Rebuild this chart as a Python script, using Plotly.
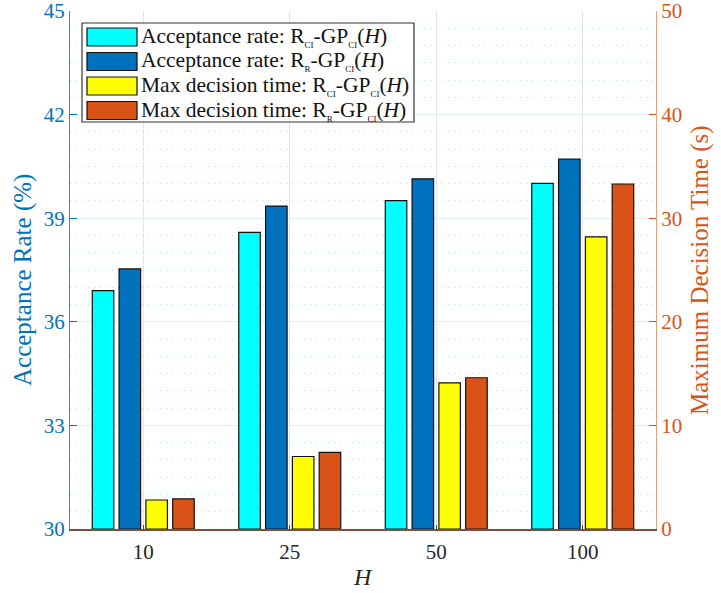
import plotly.graph_objects as go

# ---------------- data ----------------
horizons = ["10", "25", "50", "100"]
acc_rci = [36.90, 38.59, 39.51, 40.01]   # Acceptance rate: R_CI-GP_CI(H)  (%)
acc_rr = [37.53, 39.35, 40.14, 40.71]    # Acceptance rate: R_R-GP_CI(H)   (%)
time_rci = [2.8, 7.0, 14.1, 28.2]        # Max decision time: R_CI-GP_CI(H) (s)
time_rr = [2.9, 7.4, 14.6, 33.3]         # Max decision time: R_R-GP_CI(H)  (s)

left_ticks = [30, 33, 36, 39, 42, 45]
right_ticks = [0, 10, 20, 30, 40, 50]

# ---------------- style ----------------
FONT = "Liberation Serif"
C_CYAN = "#00FFFF"
C_BLUE = "#0072BD"
C_YEL = "#FFFF00"
C_ORG = "#D95319"

W, H = 721, 593
L, R, T, B = 70, 65, 11, 64
PW, PH = W - L - R, H - T - B

def px(x):
    return (x - L) / PW

def py(y):
    return (H - B - y) / PH

bar_w = 0.147
centers = [-0.2745, -0.0915, 0.0915, 0.2745]

sub = "<span style='font-size:9px'>CI</span>"
subr = "<span style='font-size:9px'>R</span>"
names = [
    f"Acceptance rate: R<sub>{sub}</sub>-GP<sub>{sub}</sub>(<i>H</i>)",
    f"Acceptance rate: R<sub>{subr}</sub>-GP<sub>{sub}</sub>(<i>H</i>)",
    f"Max decision time: R<sub>{sub}</sub>-GP<sub>{sub}</sub>(<i>H</i>)",
    f"Max decision time: R<sub>{subr}</sub>-GP<sub>{sub}</sub>(<i>H</i>)",
]
series = [(acc_rci, "y", C_CYAN), (acc_rr, "y", C_BLUE),
          (time_rci, "y2", C_YEL), (time_rr, "y2", C_ORG)]

fig = go.Figure()
for i, (vals, ax, col) in enumerate(series):
    base = 30 if ax == "y" else 0
    fig.add_trace(go.Bar(
        x=horizons, y=[v - base for v in vals], base=base, yaxis=ax,
        width=bar_w, offset=centers[i] - bar_w / 2,
        marker=dict(color=col, line=dict(color="#111111", width=1.2)),
        name=names[i], showlegend=False,
    ))

# ---------------- manual legend ----------------
shapes = []
annotations = []
shapes.append(dict(type="rect", xref="paper", yref="paper",
                   x0=px(82), x1=px(414), y0=py(23), y1=py(122),
                   line=dict(color="#333333", width=1.2), fillcolor="white", layer="above"))
for i, (_, _, col) in enumerate(series):
    top = 28 + i * 24.5
    shapes.append(dict(type="rect", xref="paper", yref="paper",
                       x0=px(87), x1=px(137), y0=py(top), y1=py(top + 18),
                       line=dict(color="#111111", width=1.2), fillcolor=col, layer="above"))
    annotations.append(dict(xref="paper", yref="paper", x=px(139), y=py(top + 9),
                            xanchor="left", yanchor="middle", showarrow=False,
                            text=names[i], font=dict(family=FONT, size=21.5, color="#111111")))

# axis titles as annotations for exact placement
annotations.append(dict(xref="paper", yref="paper", x=px(23), y=py(280),
                        xanchor="center", yanchor="middle", showarrow=False, textangle=-90,
                        text="Acceptance Rate (%)", font=dict(family=FONT, size=25, color=C_BLUE)))
annotations.append(dict(xref="paper", yref="paper", x=px(700), y=py(270),
                        xanchor="center", yanchor="middle", showarrow=False, textangle=-90,
                        text="Maximum Decision Time (s)", font=dict(family=FONT, size=25, color=C_ORG)))
annotations.append(dict(xref="paper", yref="paper", x=px(363), y=py(577),
                        xanchor="center", yanchor="middle", showarrow=False,
                        text="<i>H</i>", font=dict(family=FONT, size=24, color="#262626")))

fig.update_layout(
    width=W, height=H,
    margin=dict(l=L, r=R, t=T, b=B, autoexpand=False),
    paper_bgcolor="white", plot_bgcolor="white",
    barmode="overlay",
    font=dict(family=FONT, color="#262626"),
    shapes=shapes, annotations=annotations,
    xaxis=dict(
        type="category", range=[-0.5, 3.5], automargin=False,
        showgrid=True, gridcolor="#e4e4e4", gridwidth=1,
        showline=True, linecolor="#7a4e40", linewidth=1.5,
        ticks="inside", ticklen=4, tickcolor="#444444",
        tickfont=dict(family=FONT, size=21, color="#262626"),
        ticklabelstandoff=3,
    ),
    yaxis=dict(
        range=[30, 45], tickvals=left_ticks, automargin=False, ticklabeloverflow="allow",
        showgrid=True, gridcolor="#e2edf6", gridwidth=1,
        minor=dict(dtick=0.5, showgrid=True, gridcolor="#bcd6ee", griddash="1px,5px", gridwidth=1),
        showline=True, linecolor="#3a88c4", linewidth=1.2,
        ticks="inside", ticklen=7, tickcolor=C_BLUE,
        tickfont=dict(family=FONT, size=21, color=C_BLUE),
        zeroline=False,
    ),
    yaxis2=dict(
        range=[0, 50], tickvals=right_ticks, overlaying="y", side="right",
        automargin=False, ticklabeloverflow="allow",
        showgrid=False, showline=True, linecolor="#e8a07c", linewidth=1.2,
        ticks="inside", ticklen=7, tickcolor=C_ORG,
        tickfont=dict(family=FONT, size=21, color=C_ORG),
        zeroline=False,
    ),
)

fig.write_html("out.html", config={"displayModeBar": False},
               post_script="document.body.style.margin='0';document.body.style.overflow='hidden';")
